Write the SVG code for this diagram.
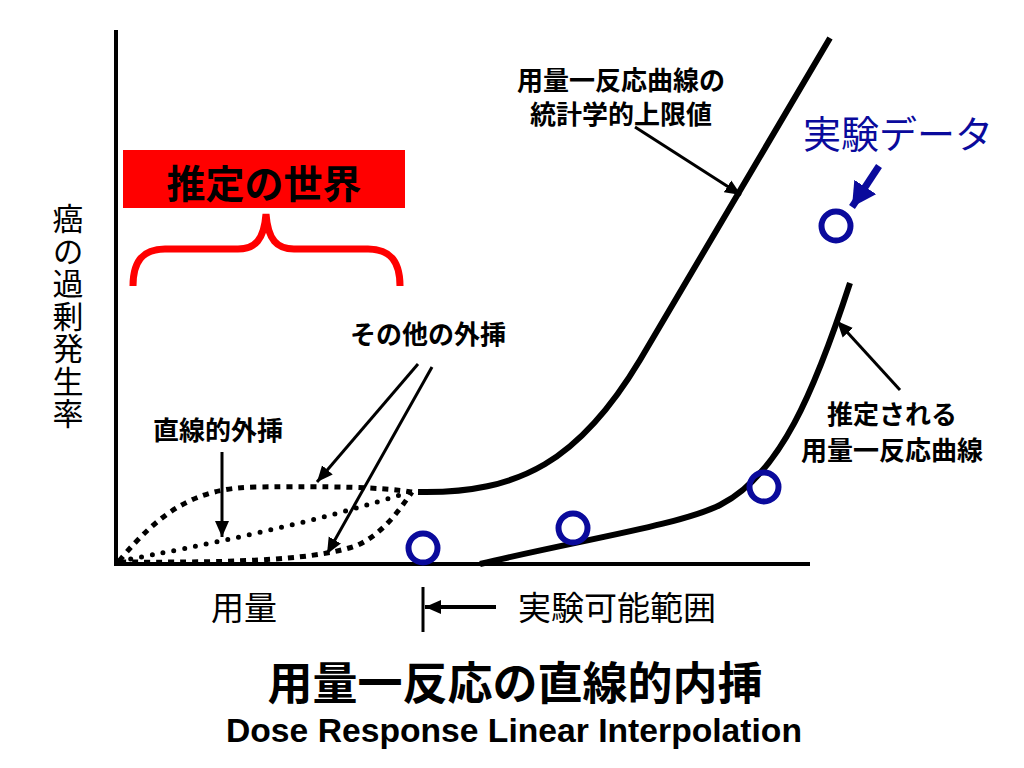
<svg xmlns="http://www.w3.org/2000/svg" width="1024" height="768" viewBox="0 0 1024 768">
<style>
.jp{font-family:"Liberation Sans","Noto Sans CJK JP",sans-serif;}
.b{font-weight:bold;}
.lbl{font-size:26px;font-weight:bold;fill:#000;text-anchor:middle;}
.curve{fill:none;stroke:#000;stroke-width:6;}
.ptr{fill:none;stroke:#000;stroke-width:3;}
.pt{fill:none;stroke:#0a0a9c;stroke-width:6;}
.dash{fill:none;stroke:#000;stroke-width:5;stroke-dasharray:6 6;}
.dot{fill:none;stroke:#000;stroke-width:5;stroke-linecap:round;stroke-dasharray:0 11;}
</style>
<defs>
<marker id="ah" markerUnits="userSpaceOnUse" markerWidth="20" markerHeight="16" refX="16" refY="8" orient="auto">
<path d="M0,1 L16,8 L0,15 Z" fill="#000"/>
</marker>
<marker id="ahb" markerUnits="userSpaceOnUse" markerWidth="28" markerHeight="26" refX="24" refY="13" orient="auto">
<path d="M0,0 L24,13 L0,26 Z" fill="#0a0a9c"/>
</marker>
</defs>
<rect width="1024" height="768" fill="#fff"/>

<g id="axes">
<line x1="116" y1="30" x2="116" y2="566" stroke="#000" stroke-width="4"/>
<line x1="114" y1="564" x2="810" y2="564" stroke="#000" stroke-width="4"/>
</g>

<g id="y-label">
<text class="jp" x="65" y="203" font-size="31" writing-mode="vertical-rl" letter-spacing="1.5" style="writing-mode:vertical-rl">癌の過剰発生率</text>
</g>

<g id="world-box">
<rect x="123" y="150" width="282" height="58" fill="#ff0000"/>
<text class="jp b" x="264" y="198" font-size="39" text-anchor="middle">推定の世界</text>
</g>

<g id="brace">
<path d="M133,286 C133,262 142,249 165,249 L238,249 C255,249 264,240 266,214 C268,240 277,249 294,249 L368,249 C391,249 400,262 400,286" fill="none" stroke="#ff0000" stroke-width="7"/>
</g>

<g id="curves">
<path id="upper-limit" class="curve" d="M418,492 C520,494 580,460 640,360 L830,38"/>
<path id="estimated" class="curve" d="M480,564 C580,540 680,525 720,505 C780,475 815,390 850,283"/>
<path id="extrap-upper" class="dash" d="M119,561 C160,512 195,488 255,487 C330,486 380,487 412,492"/>
<path id="extrap-linear" class="dot" d="M120,561 C200,546 320,522 412,491"/>
<path id="extrap-lower" class="dash" d="M120,562 C250,563 320,559 358,545 C383,533 398,512 412,492"/>
</g>

<g id="data-points">
<circle class="pt" cx="423" cy="548" r="14.5"/>
<circle class="pt" cx="573" cy="528" r="14.5"/>
<circle class="pt" cx="764" cy="487" r="14.5"/>
<circle class="pt" cx="836" cy="226" r="14.5"/>
</g>

<g id="connectors">
<line class="ptr" x1="635" y1="127" x2="741" y2="195" marker-end="url(#ah)"/>
<line class="ptr" x1="900" y1="390" x2="837" y2="321" marker-end="url(#ah)"/>
<line class="ptr" x1="418" y1="364" x2="317" y2="482" marker-end="url(#ah)"/>
<line class="ptr" x1="432" y1="367" x2="327" y2="554" marker-end="url(#ah)"/>
<line class="ptr" x1="222" y1="452" x2="222" y2="537" marker-end="url(#ah)"/>
<line x1="879" y1="166" x2="852" y2="207" stroke="#0a0a9c" stroke-width="7" marker-end="url(#ahb)"/>
<line x1="423" y1="587" x2="423" y2="632" stroke="#000" stroke-width="3"/>
<line x1="496" y1="607" x2="425" y2="607" stroke="#000" stroke-width="4" marker-end="url(#ah)"/>
</g>

<g id="label-upper">
<text class="jp lbl" x="621" y="90">用量一反応曲線の</text>
<text class="jp lbl" x="621" y="124">統計学的上限値</text>
</g>
<g id="label-data">
<text class="jp" x="898" y="148" font-size="38" fill="#0a0a9c" text-anchor="middle">実験データ</text>
</g>
<g id="label-estimated">
<text class="jp lbl" x="892" y="424">推定される</text>
<text class="jp lbl" x="892" y="460">用量一反応曲線</text>
</g>
<g id="label-other">
<text class="jp lbl" x="428" y="344">その他の外挿</text>
</g>
<g id="label-linear">
<text class="jp lbl" x="218" y="440">直線的外挿</text>
</g>

<g id="x-labels">
<text class="jp" x="244" y="620" font-size="33" text-anchor="middle">用量</text>
<text class="jp" x="518" y="620" font-size="33">実験可能範囲</text>
</g>

<g id="title">
<text class="jp b" x="515" y="700" font-size="45" text-anchor="middle">用量一反応の直線的内挿</text>
<text class="b" x="514" y="742" font-size="33" text-anchor="middle" textLength="576" lengthAdjust="spacingAndGlyphs" font-family="Liberation Sans, Arial, sans-serif">Dose Response Linear Interpolation</text>
</g>
</svg>
